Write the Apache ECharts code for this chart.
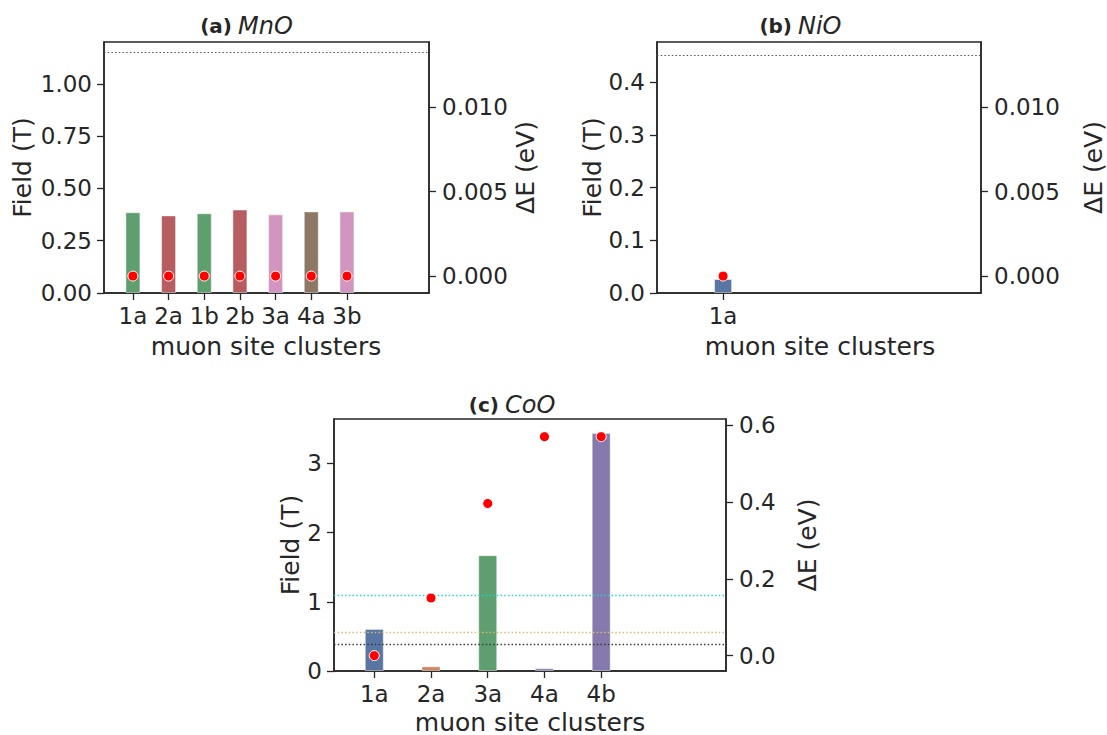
<!DOCTYPE html>
<html><head><meta charset="utf-8">
<script src="https://cdn.jsdelivr.net/npm/echarts@6/dist/echarts.min.js"></script>
<style>html,body{margin:0;padding:0;background:#fff}#chart{width:1107px;height:735px}</style>
</head><body><div id="chart"></div>
<script>
// ---------- data ----------
const mnoSites = ['1a', '2a', '1b', '2b', '3a', '4a', '3b'];
const mnoField = [0.386, 0.371, 0.381, 0.399, 0.376, 0.390, 0.390];
const mnoDeltaE = [0, 0, 0, 0, 0, 0, 0];
const mnoThresholds = [1.145];
const mnoTicksLeft = [0, 0.25, 0.5, 0.75, 1.0];
const mnoTicksRight = [0, 0.005, 0.010];

const nioSites = ['1a'];
const nioField = [0.0265];
const nioDeltaE = [0];
const nioThresholds = [0.452];
const nioTicksLeft = [0, 0.1, 0.2, 0.3, 0.4];
const nioTicksRight = [0, 0.005, 0.010];

const cooSites = ['1a', '2a', '3a', '4a', '4b'];
const cooField = [0.608, 0.068, 1.674, 0.040, 3.44];
const cooDeltaE = [0.0, 0.150, 0.396, 0.570, 0.570];
const cooThresholds = [1.095, 0.565, 0.390];
const cooTicksLeft = [0, 1, 2, 3];
const cooTicksRight = [0, 0.2, 0.4, 0.6];

// ---------- styles ----------
const C = {
  blue: '#5975a4', orange: '#cc8963', green: '#5f9e6e', red: '#b55d60',
  purple: '#857aab', brown: '#8d7866', pink: '#d195bf'
};
const mnoColors = [C.green, C.red, C.green, C.red, C.pink, C.brown, C.pink];
const nioColors = [C.blue];
const cooColors = [C.blue, C.orange, C.green, C.purple, C.purple];
const mnoThrColors = ['#555555'];
const nioThrColors = ['#555555'];
const cooThrColors = ['#1fd6e0', '#d8bb72', '#3a3a3a'];

const FONT = '"DejaVu Sans", "Liberation Sans", sans-serif';
const INK = '#262626';

const panels = [
  { grid: {left: 104, top: 42, width: 325, height: 251}, xr: [-0.81, 8.3],
    yl: [0, 1.2], yr: [-0.001, 0.01385], sites: mnoSites, field: mnoField, dE: mnoDeltaE,
    thr: mnoThresholds, thrColors: mnoThrColors, thrW: 1.1, tl: mnoTicksLeft, tr: mnoTicksRight,
    dl: 2, dr: 3, barW: 15, colors: mnoColors },
  { grid: {left: 657, top: 42, width: 324, height: 251}, xr: [-1.53, 5.97],
    yl: [0, 0.476], yr: [-0.001, 0.01385], sites: nioSites, field: nioField, dE: nioDeltaE,
    thr: nioThresholds, thrColors: nioThrColors, thrW: 1.1, tl: nioTicksLeft, tr: nioTicksRight,
    dl: 1, dr: 3, barW: 18, colors: nioColors },
  { grid: {left: 334, top: 419, width: 392, height: 252}, xr: [-0.71, 6.2],
    yl: [0, 3.643], yr: [-0.04, 0.616], sites: cooSites, field: cooField, dE: cooDeltaE,
    thr: cooThresholds, thrColors: cooThrColors, thrW: 1.4, tl: cooTicksLeft, tr: cooTicksRight,
    dl: 0, dr: 1, barW: 19, colors: cooColors }
];

const axisLine = {show: true, onZero: false, lineStyle: {color: INK, width: 1.5}};
const tickStyle = {color: INK, width: 1.3};
const labelBase = {fontSize: 23, color: INK, fontFamily: FONT};

const grid = [], xAxis = [], yAxis = [], series = [];
panels.forEach((p, i) => {
  grid.push(Object.assign({show: true, borderColor: INK, borderWidth: 1.5, backgroundColor: 'transparent'}, p.grid));
  const idx = p.sites.map((_, k) => k);
  xAxis.push({
    type: 'value', gridIndex: i, min: p.xr[0], max: p.xr[1],
    axisLine, splitLine: {show: false},
    axisTick: {show: true, length: 7, lineStyle: tickStyle, customValues: idx},
    axisLabel: Object.assign({margin: 11, customValues: idx, formatter: v => p.sites[Math.round(v)]}, labelBase)
  });
  yAxis.push({
    type: 'value', gridIndex: i, position: 'left', min: p.yl[0], max: p.yl[1],
    axisLine, splitLine: {show: false},
    axisTick: {show: true, length: 7, lineStyle: tickStyle, customValues: p.tl},
    axisLabel: Object.assign({margin: 12, customValues: p.tl, formatter: v => Number(v).toFixed(p.dl)}, labelBase)
  });
  yAxis.push({
    type: 'value', gridIndex: i, position: 'right', min: p.yr[0], max: p.yr[1],
    axisLine, splitLine: {show: false},
    axisTick: {show: true, length: 7, lineStyle: tickStyle, customValues: p.tr},
    axisLabel: Object.assign({margin: 13, customValues: p.tr, formatter: v => Number(v).toFixed(p.dr)}, labelBase)
  });
  series.push({
    type: 'bar', xAxisIndex: i, yAxisIndex: 2 * i, barWidth: p.barW, z: 2,
    data: p.field.map((v, k) => ({value: [k, v], itemStyle: {color: p.colors[k], borderColor: 'rgba(255,255,255,0.45)', borderWidth: 1}})),
    markLine: {
      silent: true, symbol: 'none', label: {show: false}, z: 4, animation: false,
      data: p.thr.map((t, j) => ({yAxis: t, lineStyle: {color: p.thrColors[j], type: [1.5, 2.2], width: p.thrW}}))
    }
  });
  series.push({
    type: 'scatter', xAxisIndex: i, yAxisIndex: 2 * i + 1, symbolSize: 10, z: 6,
    itemStyle: {color: '#ff0000', borderColor: '#ffffff', borderWidth: 1, opacity: 1},
    data: p.dE.map((v, k) => [k, v])
  });
});

function txt(x, y, text, opts) {
  return {type: 'text', x, y, rotation: opts.rot || 0, silent: true,
    style: Object.assign({text, fill: INK, fontFamily: FONT, align: 'center', verticalAlign: 'middle'}, opts.style || {})};
}
const lab = {fontSize: 25};
const tb = {fontSize: 20, fontWeight: 'bold', align: 'right'};
const ti = {fontSize: 24, fontStyle: 'italic', align: 'left'};
const graphic = [
  txt(232, 26, '(a)', {style: tb}),
  txt(238, 26, 'MnO', {style: ti}),
  txt(792, 26, '(b)', {style: tb}),
  txt(798, 26, 'NiO', {style: ti}),
  txt(499, 404.5, '(c)', {style: tb}),
  txt(505, 404.5, 'CoO', {style: ti}),
  txt(22, 167.5, 'Field (T)', {rot: Math.PI / 2, style: lab}),
  txt(592, 167.5, 'Field (T)', {rot: Math.PI / 2, style: lab}),
  txt(290.5, 545, 'Field (T)', {rot: Math.PI / 2, style: lab}),
  txt(525, 167.5, 'ΔE (eV)', {rot: Math.PI / 2, style: lab}),
  txt(1093, 167.5, 'ΔE (eV)', {rot: Math.PI / 2, style: lab}),
  txt(807, 545, 'ΔE (eV)', {rot: Math.PI / 2, style: lab}),
  txt(266, 346, 'muon site clusters', {style: lab}),
  txt(820, 346, 'muon site clusters', {style: lab}),
  txt(530, 722, 'muon site clusters', {style: lab})
];

const chart = echarts.init(document.getElementById('chart'), null, {renderer: 'svg'});
chart.setOption({
  animation: false, backgroundColor: '#ffffff',
  textStyle: {fontFamily: FONT},
  grid, xAxis, yAxis, series, graphic
});
</script>
</body></html>
